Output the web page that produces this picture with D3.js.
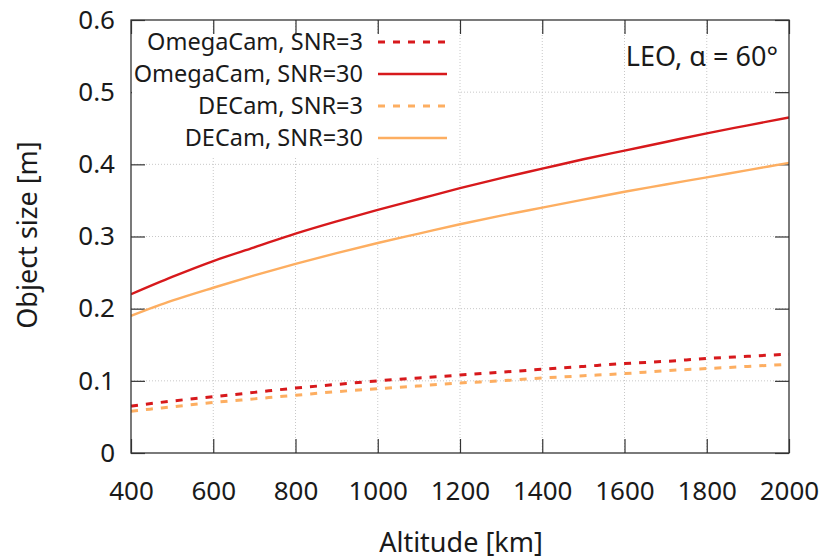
<!DOCTYPE html>
<html><head><meta charset="utf-8">
<script src="https://cdn.jsdelivr.net/npm/d3@7"></script>
<style>body{margin:0;background:#fff}svg{display:block}text{font-family:"Noto Sans","Open Sans",sans-serif;fill:#1a1a1a}</style>
</head><body>
<script>
const altitudes = [400,500,600,700,800,900,1000,1100,1200,1300,1400,1500,1600,1700,1800,1900,2000];
const omega30 = [.220,.244,.266,.285,.304,.321,.337,.352,.367,.381,.394,.407,.419,.431,.443,.454,.465];
const decam30 = [.190,.211,.229,.246,.262,.277,.291,.304,.317,.329,.340,.351,.362,.372,.382,.392,.402];
const omega3  = [.065,.072,.078,.084,.090,.095,.100,.104,.108,.112,.116,.120,.124,.127,.131,.134,.137];
const decam3  = [.058,.064,.070,.075,.080,.085,.089,.093,.097,.100,.104,.107,.110,.114,.117,.120,.123];
const xTicks = [400,600,800,1000,1200,1400,1600,1800,2000];
const yTicks = [0,0.1,0.2,0.3,0.4,0.5,0.6];
const series = [
  {name:"OmegaCam, SNR=3", values:omega3, color:"#d7191c", dash:"7,8"},
  {name:"OmegaCam, SNR=30", values:omega30, color:"#d7191c", dash:null},
  {name:"DECam, SNR=3", values:decam3, color:"#fdae61", dash:"7,8"},
  {name:"DECam, SNR=30", values:decam30, color:"#fdae61", dash:null}
];

const W=828,H=560, L=131,R=789,T=20,B=453;
const svg=d3.select("body").append("svg").attr("width",W).attr("height",H);
const x=d3.scaleLinear().domain([400,2000]).range([L,R]);
const y=d3.scaleLinear().domain([0,0.6]).range([B,T]);
const tl=14;

// grid
const g=svg.append("g");
g.selectAll(".gx").data(xTicks.slice(1,-1)).join("line")
 .attr("x1",d=>x(d)).attr("x2",d=>x(d)).attr("y1",T).attr("y2",B)
 .attr("stroke","#c8c8c8").attr("stroke-width",1).attr("stroke-dasharray","1,2");
g.selectAll(".gy").data(yTicks.slice(1,-1)).join("line")
 .attr("y1",d=>y(d)).attr("y2",d=>y(d)).attr("x1",L).attr("x2",R)
 .attr("stroke","#c8c8c8").attr("stroke-width",1).attr("stroke-dasharray","1,2");

// axes (ticks inward, mirrored)
const ax=(sel,axis)=>{sel.call(axis);sel.select(".domain").remove();sel.selectAll("line").attr("stroke","#333").attr("stroke-width",1.2);};
svg.append("g").attr("transform",`translate(0,${B})`).call(s=>ax(s,d3.axisBottom(x).tickValues(xTicks).tickSize(-tl).tickPadding(29).tickFormat(d3.format("d"))))
  .selectAll("text").style("font-size","26px").attr("fill","#1a1a1a");
svg.append("g").attr("transform",`translate(0,${T})`).call(s=>ax(s,d3.axisTop(x).tickValues(xTicks).tickSize(-tl).tickFormat("")));
svg.append("g").attr("transform",`translate(${L},0)`).call(s=>ax(s,d3.axisLeft(y).tickValues(yTicks).tickSize(-tl).tickPadding(16).tickFormat(d=>d===0?"0":d3.format(".1f")(d))))
  .selectAll("text").style("font-size","26px").attr("fill","#1a1a1a");
svg.append("g").attr("transform",`translate(${R},0)`).call(s=>ax(s,d3.axisRight(y).tickValues(yTicks).tickSize(-tl).tickFormat("")));

// legend background
const lg=svg.append("g");
lg.append("rect").attr("x",L+1).attr("y",T+14).attr("width",326).attr("height",124).attr("fill","#fff");

// lines
const line=d3.line().x((d,i)=>x(altitudes[i])).y(d=>y(d)).curve(d3.curveMonotoneX);
svg.append("defs").append("clipPath").attr("id","c").append("rect").attr("x",L).attr("y",T).attr("width",R-L).attr("height",B-T);
svg.append("g").attr("clip-path","url(#c)").selectAll("path").data(series).join("path")
 .attr("d",d=>line(d.values)).attr("fill","none").attr("stroke",d=>d.color)
 .attr("stroke-width",d=>d.dash?3:2.4).attr("stroke-dasharray",d=>d.dash);

// legend
series.forEach((s,i)=>{
  const yy=42+i*32;
  lg.append("text").attr("x",363).attr("y",yy).attr("dy","0.35em").attr("text-anchor","end").style("font-size","23.5px").text(s.name);
  lg.append("line").attr("x1",378).attr("x2",447).attr("y1",yy).attr("y2",yy).attr("stroke",s.color)
   .attr("stroke-width",s.dash?3:2.4).attr("stroke-dasharray",s.dash);
});

// border
svg.append("rect").attr("x",L).attr("y",T).attr("width",R-L).attr("height",B-T).attr("fill","none").attr("stroke","#333").attr("stroke-width",1.3);

// label
svg.append("text").attr("x",778).attr("y",57).attr("dy","0.35em").attr("text-anchor","end").style("font-size","27px").text("LEO, α = 60°");

// axis titles
svg.append("text").attr("x",461).attr("y",552).attr("text-anchor","middle").style("font-size","27px").text("Altitude [km]");
svg.append("text").attr("transform",`translate(37,235) rotate(-90)`).attr("text-anchor","middle").style("font-size","27px").text("Object size [m]");
</script>
</body></html>
